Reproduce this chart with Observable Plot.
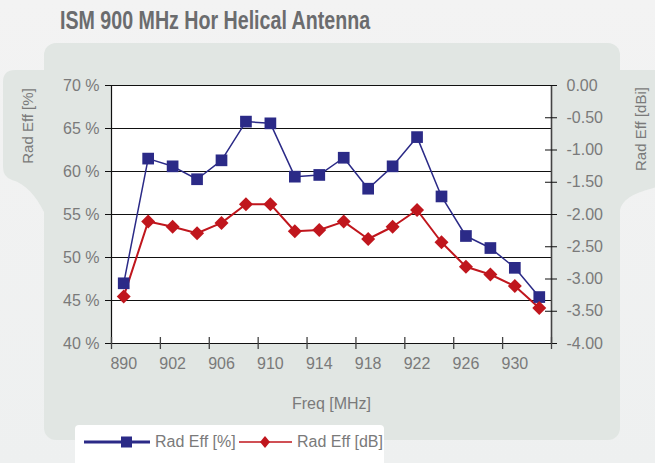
<!DOCTYPE html>
<html>
<head>
<meta charset="utf-8">
<script src="https://cdn.jsdelivr.net/npm/d3@7"></script>
<script src="https://cdn.jsdelivr.net/npm/@observablehq/plot@0.6"></script>
<style>
  html, body { margin: 0; padding: 0; background: #f1f2f2; }
  #wrap { position: relative; width: 655px; height: 463px; overflow: hidden; background: linear-gradient(#f3f3f3, #eef0f0); font-family: "Liberation Sans", Arial, sans-serif; }
  #bg { position: absolute; left: 0; top: 0; }
  #title { position: absolute; left: 60px; top: 6px; font-family: "Liberation Sans", Arial, sans-serif; font-weight: bold; font-size: 25px; color: #6b6c6e; white-space: nowrap; transform: scaleX(0.785); transform-origin: 0 50%; }
  #chart { position: absolute; left: 0; top: 0; }
  .ylab { position: absolute; font-size: 15px; color: #7a7a7a; white-space: nowrap; transform: translate(-50%, -50%) rotate(-90deg); }
  #legend { position: absolute; left: 75px; top: 425px; width: 309px; height: 50px; background: #fff; border-radius: 4px; }
  .li { position: absolute; top: 8px; font-size: 16px; color: #7a7a7a; white-space: nowrap; display: flex; align-items: center; }
  .li svg { margin-right: 5px; }
</style>
</head>
<body>
<div id="wrap">
  <svg id="bg" width="655" height="463">
    <rect x="44" y="43" width="576" height="397" rx="12" ry="12" fill="#e1e6e3"/>
    <path d="M15 70 L50 70 L50 214 L44 212 C36 196 26 184 12 180 Q3 177 3 167 L3 82 Q3 70 15 70 Z" fill="#e1e6e3"/>
    <path d="M600 70 L660 70 L660 186 L650 189 C636 193 623 198 620 210 L600 210 Z" fill="#e1e6e3"/>
  </svg>
  <div id="title">ISM 900 MHz Hor Helical Antenna</div>
  <div id="chart"></div>
  <div class="ylab" style="left:27px; top:126px;">Rad Eff [%]</div>
  <div class="ylab" style="left:640px; top:129px;">Rad Eff [dBi]</div>
  <div id="legend">
    <div class="li" style="left:9px;">
      <svg width="66" height="14"><line x1="0" y1="7" x2="66" y2="7" stroke="#2b2a87" stroke-width="3"/><rect x="37" y="1.5" width="11" height="11" fill="#2b2a87"/></svg>
      Rad Eff [%]
    </div>
    <div class="li" style="left:164px;">
      <svg width="53" height="14"><line x1="0" y1="7" x2="53" y2="7" stroke="#c0161d" stroke-width="1.5"/><path d="M26 1 L31 7 L26 13 L21 7 Z" fill="#c0161d"/></svg>
      Rad Eff [dB]
    </div>
  </div>
</div>
<script>
// ---- data ----
const freqs = [890, 900, 902, 904, 906, 908, 910, 912, 914, 916, 918, 920, 922, 924, 926, 928, 930, 932];
const radEffPct = [47.0, 61.5, 60.6, 59.1, 61.3, 65.8, 65.6, 59.4, 59.6, 61.6, 58.0, 60.6, 64.0, 57.1, 52.5, 51.1, 48.8, 45.4];
const radEffDb = [-3.27, -2.11, -2.19, -2.29, -2.13, -1.84, -1.84, -2.26, -2.24, -2.11, -2.38, -2.19, -1.93, -2.43, -2.81, -2.93, -3.11, -3.45];
const leftTicks = [40, 45, 50, 55, 60, 65, 70];
const rightTicks = [0, -0.5, -1, -1.5, -2, -2.5, -3, -3.5, -4];
const xLabelIdx = [0, 2, 4, 6, 8, 10, 12, 14, 16];
const xTickBounds = [0, 2, 4, 6, 8, 10, 12, 14, 16, 18];

// ---- helpers: map dB axis onto the % scale ----
const pctMin = 40, pctMax = 70, dbMin = -4, dbMax = 0;
const toPct = db => pctMin + (db - dbMin) * (pctMax - pctMin) / (dbMax - dbMin);
const fromPct = p => dbMin + (p - pctMin) * (dbMax - dbMin) / (pctMax - pctMin);

const data = freqs.map((f, i) => ({i, f, pct: radEffPct[i], db: radEffDb[i]}));
const BLUE = "#2b2a87", RED = "#c0161d", TXT = "#7a7a7a";
const nCat = freqs.length;

const chart = Plot.plot({
  width: 655,
  height: 463,
  marginLeft: 111,
  marginRight: 104,
  marginTop: 85,
  marginBottom: 120,
  style: {background: "transparent", fontFamily: "'Liberation Sans', Arial, sans-serif", fontSize: "16px"},
  x: {domain: [0, nCat], axis: null},
  y: {domain: [pctMin, pctMax], axis: null},
  marks: [
    Plot.frame({fill: "white", stroke: null}),
    // gridlines
    Plot.ruleY(leftTicks.filter(v => v > pctMin), {stroke: "#111", strokeWidth: 1.1}),
    // axis lines
    Plot.ruleY([pctMin], {stroke: "#111", strokeWidth: 1.2}),
    Plot.ruleX([0], {stroke: "#111", strokeWidth: 1.2}),
    Plot.ruleX([nCat], {stroke: "#444", strokeWidth: 1.6}),
    // crossing tick marks
    Plot.ruleY(leftTicks, {x1: 0, x2: 0, insetLeft: -6, insetRight: -6, stroke: "#111"}),
    Plot.ruleY(rightTicks.map(toPct), {x1: nCat, x2: nCat, insetLeft: -6, insetRight: -6, stroke: "#111"}),
    Plot.ruleX(xTickBounds, {y1: pctMin, y2: pctMin, insetTop: -6, insetBottom: -6, stroke: "#444", strokeWidth: 1.3}),
    // tick labels
    Plot.axisY(leftTicks, {anchor: "left", tickSize: 0, tickPadding: 12, tickFormat: d => d + " %", fill: TXT, fontSize: 16, label: null}),
    Plot.axisY(rightTicks.map(toPct), {anchor: "right", tickSize: 0, tickPadding: 15, tickFormat: d => fromPct(d).toFixed(2), fill: TXT, fontSize: 16, label: null}),
    Plot.axisX(xLabelIdx.map(i => i + 0.5), {anchor: "bottom", tickSize: 0, tickPadding: 14, tickFormat: d => String(freqs[Math.floor(d)]), fill: TXT, fontSize: 16,
      label: "Freq [MHz]", labelAnchor: "center", labelArrow: "none", labelOffset: 65}),
    // series
    Plot.line(data, {x: d => d.i + 0.5, y: d => toPct(d.db), stroke: RED, strokeWidth: 2}),
    Plot.line(data, {x: d => d.i + 0.5, y: "pct", stroke: BLUE, strokeWidth: 1.5}),
    Plot.dot(data, {x: d => d.i + 0.5, y: "pct", symbol: "square", r: 6.6, fill: BLUE, stroke: null}),
    Plot.dot(data, {x: d => d.i + 0.5, y: d => toPct(d.db), symbol: "diamond2", r: 6.3, fill: RED, stroke: null})
  ]
});
document.getElementById("chart").appendChild(chart);
</script>
</body>
</html>
